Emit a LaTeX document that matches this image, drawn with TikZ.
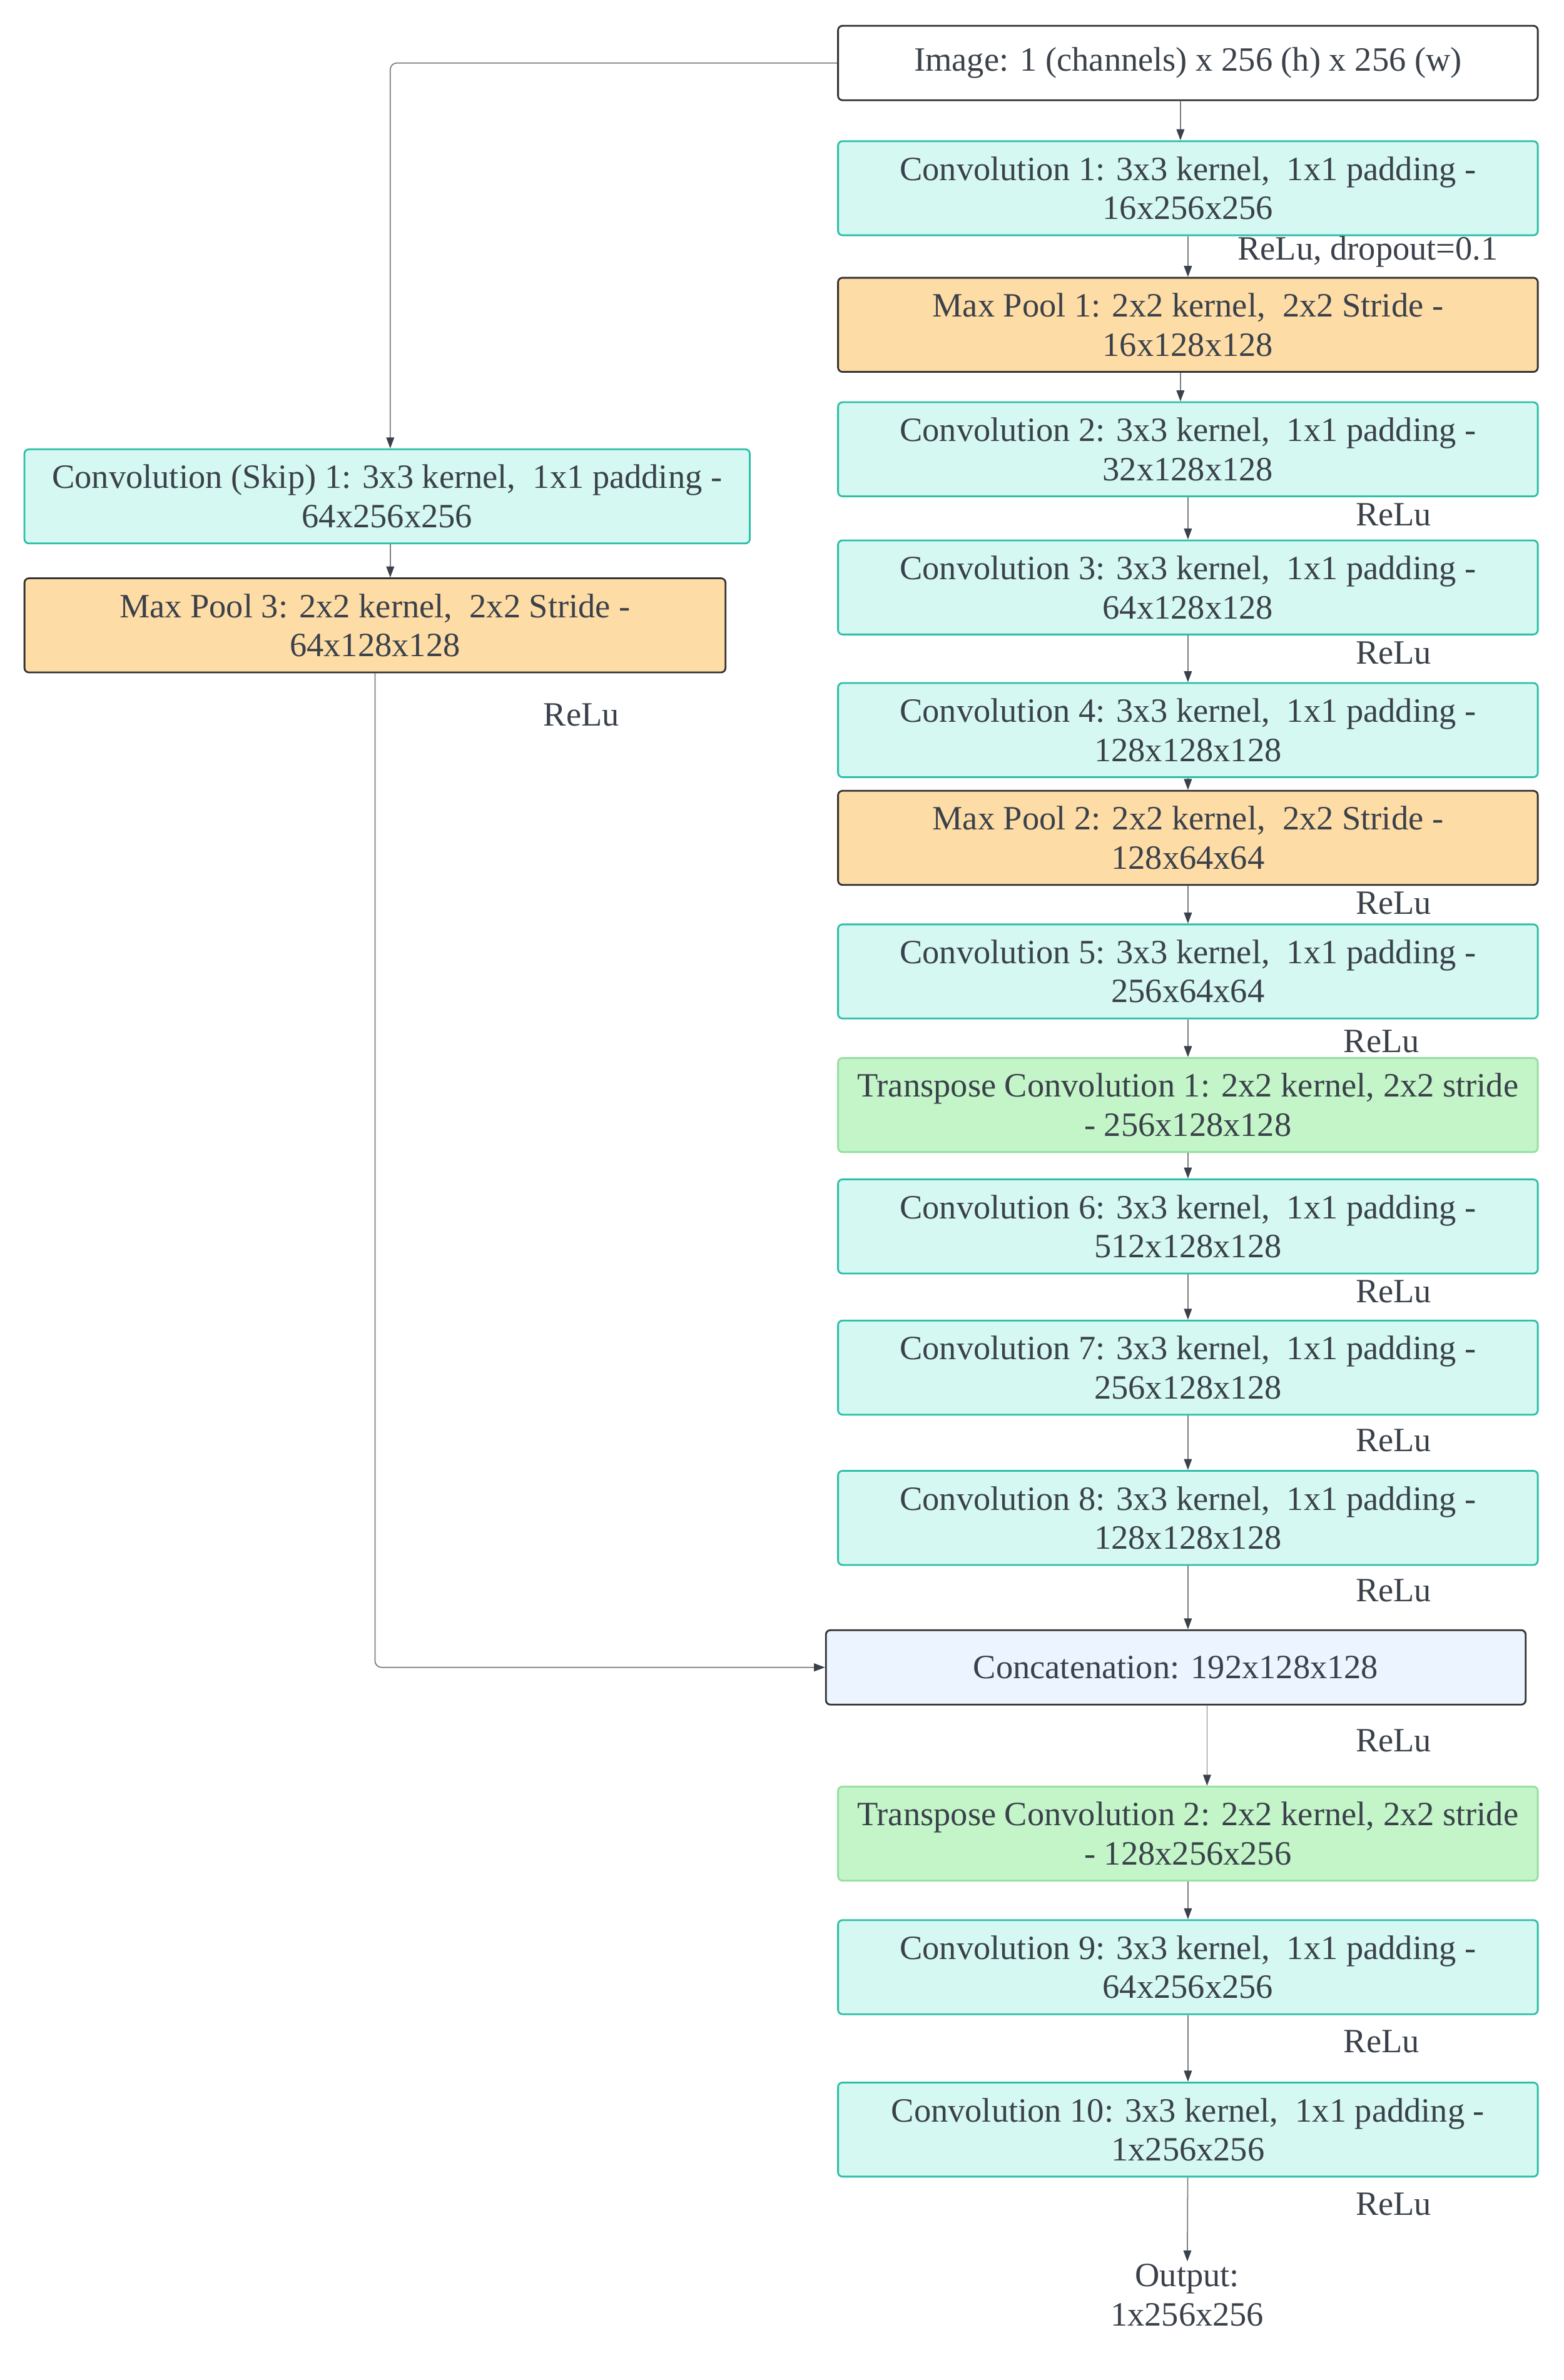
\documentclass[tikz,border=0pt]{standalone}
\usepackage{fontspec}
\setmainfont{Liberation Serif}
\usetikzlibrary{arrows.meta, positioning, calc}
\definecolor{convfill}{RGB}{213, 248, 242}
\definecolor{convline}{RGB}{44, 191, 168}
\definecolor{poolfill}{RGB}{254, 220, 166}
\definecolor{tconvfill}{RGB}{195, 245, 200}
\definecolor{tconvline}{RGB}{150, 222, 160}
\definecolor{catfill}{RGB}{236, 244, 255}
\definecolor{inkdark}{RGB}{51, 51, 51}
\definecolor{textgray}{RGB}{58, 65, 74}
\definecolor{wiregray}{RGB}{125, 125, 125}
\newcommand\boxfont{\fontsize{15.5}{17.8}\selectfont}

\begin{document}
\begin{tikzpicture}[x=0.02427cm, y=-0.02427cm,
  box/.style={draw=inkdark, rounded corners=2pt, line width=0.8pt, minimum width=11.19cm,
              minimum height=1.505cm, inner sep=2pt, align=center, font=\boxfont, text=textgray},
  conv/.style={box, fill=convfill, draw=convline},
  pool/.style={box, fill=poolfill},
  tconv/.style={box, fill=tconvfill, draw=tconvline},
  act/.style={font=\boxfont, text=textgray},
  wire/.style={draw=wiregray, line width=0.5pt, rounded corners=3pt,
               -{Triangle[length=5pt, width=3.6pt, color=textgray]}},
]
\useasboundingbox (0, 0) rectangle (1030, 1568);

% Main path
\node[box, fill=white, minimum height=1.19cm] (img) at (782.5, 41.5) {Image: 1 (channels) x 256 (h) x 256 (w)};
\node[conv] (conv1) at (782.5, 124) {Convolution 1: 3x3 kernel,~~1x1 padding -\\16x256x256};
\node[pool] (pool1) at (782.5, 214) {Max Pool 1: 2x2 kernel,~~2x2 Stride -\\16x128x128};
\node[conv] (conv2) at (782.5, 296) {Convolution 2: 3x3 kernel,~~1x1 padding -\\32x128x128};
\node[conv] (conv3) at (782.5, 387) {Convolution 3: 3x3 kernel,~~1x1 padding -\\64x128x128};
\node[conv] (conv4) at (782.5, 481) {Convolution 4: 3x3 kernel,~~1x1 padding -\\128x128x128};
\node[pool] (pool2) at (782.5, 552) {Max Pool 2: 2x2 kernel,~~2x2 Stride -\\128x64x64};
\node[conv] (conv5) at (782.5, 640) {Convolution 5: 3x3 kernel,~~1x1 padding -\\256x64x64};
\node[tconv] (tconv1) at (782.5, 728) {Transpose Convolution 1: 2x2 kernel, 2x2 stride\\- 256x128x128};
\node[conv] (conv6) at (782.5, 808) {Convolution 6: 3x3 kernel,~~1x1 padding -\\512x128x128};
\node[conv] (conv7) at (782.5, 901) {Convolution 7: 3x3 kernel,~~1x1 padding -\\256x128x128};
\node[conv] (conv8) at (782.5, 1000) {Convolution 8: 3x3 kernel,~~1x1 padding -\\128x128x128};
\node[box, fill=catfill, minimum height=1.19cm] (cat) at (774.5, 1098.5) {Concatenation: 192x128x128};
\node[tconv] (tconv2) at (782.5, 1208) {Transpose Convolution 2: 2x2 kernel, 2x2 stride\\- 128x256x256};
\node[conv] (conv9) at (782.5, 1296) {Convolution 9: 3x3 kernel,~~1x1 padding -\\64x256x256};
\node[conv] (conv10) at (782.5, 1403) {Convolution 10: 3x3 kernel,~~1x1 padding -\\1x256x256};
\node[act, align=center, inner sep=1pt] (out) at (782, 1512) {Output:\\1x256x256};

% Skip branch
\node[conv, minimum width=11.6cm] (skip1) at (255, 327) {Convolution (Skip) 1: 3x3 kernel,~~1x1 padding -\\64x256x256};
\node[pool, minimum width=11.21cm] (pool3) at (247, 412) {Max Pool 3: 2x2 kernel,~~2x2 Stride -\\64x128x128};

% Activations
\node[act] (a1) at (901, 166) {ReLu, dropout=0.1};
\node[act] (a2) at (918, 339) {ReLu};
\node[act] (a3) at (918, 430) {ReLu};
\node[act] (a4) at (918, 595) {ReLu};
\node[act] (a5) at (910, 686) {ReLu};
\node[act] (a6) at (918, 851) {ReLu};
\node[act] (a7) at (918, 949) {ReLu};
\node[act] (a8) at (918, 1048) {ReLu};
\node[act] (a9) at (918, 1147) {ReLu};
\node[act] (a10) at (910, 1345) {ReLu};
\node[act] (a11) at (918, 1452) {ReLu};
\node[act] (a12) at (383, 471) {ReLu};

% Connectors
\draw[wire] ([xshift=-0.12cm]img.south) -- ([xshift=-0.12cm]conv1.north);
\draw[wire] (conv1) -- (pool1);
\draw[wire] ([xshift=-0.12cm]pool1.south) -- ([xshift=-0.12cm]conv2.north);
\draw[wire] (conv2) -- (conv3);
\draw[wire] (conv3) -- (conv4);
\draw[wire] (conv4) -- (pool2);
\draw[wire] (pool2) -- (conv5);
\draw[wire] (conv5) -- (tconv1);
\draw[wire] (tconv1) -- (conv6);
\draw[wire] (conv6) -- (conv7);
\draw[wire] (conv7) -- (conv8);
\draw[wire] (conv8.south) -- (conv8.south |- cat.north);
\draw[wire] ([xshift=0.5cm]cat.south) -- ([xshift=0.5cm]cat.south |- tconv2.north);
\draw[wire] (tconv2) -- (conv9);
\draw[wire] (conv9) -- (conv10);
\draw[wire] (conv10) -- (out);
\draw[wire] (img.west) -| ([xshift=0.05cm]skip1.north);
\draw[wire] ([xshift=0.05cm]skip1.south) -- ([xshift=0.05cm]skip1.south |- pool3.north);
\draw[wire] (pool3.south) |- (cat.west);
\end{tikzpicture}
\end{document}
